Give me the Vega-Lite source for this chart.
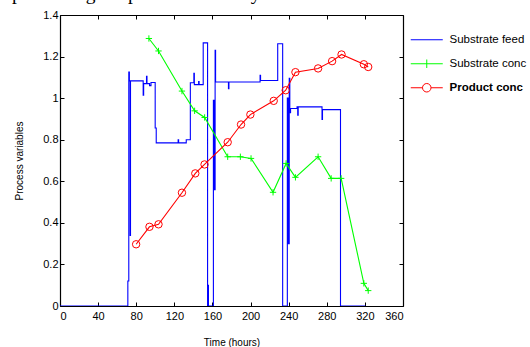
{
  "$schema": "https://vega.github.io/schema/vega-lite/v6.json",
  "width": 343,
  "height": 291,
  "autosize": {"type": "none"},
  "padding": {"left": 60, "top": 15, "right": 127, "bottom": 41},
  "background": "white",
  "title": {"text": "processing for product recovery.", "font": "Liberation Serif", "fontSize": 19.5, "fontWeight": "normal", "color": "#000", "anchor": "start", "frame": "group", "baseline": "alphabetic", "offset": 0, "dx": -48, "dy": 10},
  "config": {
    "view": {"stroke": null},
    "axis": {"domainColor": "#000", "domainWidth": 1.2, "tickColor": "#000", "tickSize": -4, "labelPadding": 8, "labelFont": "Liberation Sans", "labelFontSize": 11, "labelColor": "#000", "titleFont": "Liberation Sans", "titleFontSize": 10, "titleFontWeight": "normal", "titleColor": "#000", "grid": false}
  },
  "datasets": {
    "d": [
      {"s":"Substrate feed","i":0,"t":0,"v":0},
      {"s":"Substrate feed","i":1,"t":71.2,"v":0},
      {"s":"Substrate feed","i":2,"t":71.2,"v":0.12},
      {"s":"Substrate feed","i":3,"t":72.2,"v":0.12},
      {"s":"Substrate feed","i":4,"t":72.2,"v":1.126},
      {"s":"Substrate feed","i":5,"t":72.8,"v":1.126},
      {"s":"Substrate feed","i":6,"t":72.8,"v":1.083},
      {"s":"Substrate feed","i":7,"t":73.6,"v":1.083},
      {"s":"Substrate feed","i":8,"t":73.6,"v":0.34},
      {"s":"Substrate feed","i":9,"t":74,"v":0.34},
      {"s":"Substrate feed","i":10,"t":74,"v":1.083},
      {"s":"Substrate feed","i":11,"t":87.3,"v":1.083},
      {"s":"Substrate feed","i":12,"t":87.3,"v":1.014},
      {"s":"Substrate feed","i":13,"t":87.8,"v":1.014},
      {"s":"Substrate feed","i":14,"t":87.8,"v":1.07},
      {"s":"Substrate feed","i":15,"t":90.8,"v":1.07},
      {"s":"Substrate feed","i":16,"t":90.8,"v":1.105},
      {"s":"Substrate feed","i":17,"t":91.3,"v":1.105},
      {"s":"Substrate feed","i":18,"t":91.3,"v":1.07},
      {"s":"Substrate feed","i":19,"t":94,"v":1.07},
      {"s":"Substrate feed","i":20,"t":94,"v":1.06},
      {"s":"Substrate feed","i":21,"t":95.5,"v":1.06},
      {"s":"Substrate feed","i":22,"t":95.5,"v":1.075},
      {"s":"Substrate feed","i":23,"t":99.9,"v":1.075},
      {"s":"Substrate feed","i":24,"t":99.9,"v":0.856},
      {"s":"Substrate feed","i":25,"t":101,"v":0.856},
      {"s":"Substrate feed","i":26,"t":101,"v":0.785},
      {"s":"Substrate feed","i":27,"t":124,"v":0.785},
      {"s":"Substrate feed","i":28,"t":124,"v":0.8},
      {"s":"Substrate feed","i":29,"t":124.5,"v":0.8},
      {"s":"Substrate feed","i":30,"t":124.5,"v":0.785},
      {"s":"Substrate feed","i":31,"t":132.5,"v":0.785},
      {"s":"Substrate feed","i":32,"t":132.5,"v":0.8},
      {"s":"Substrate feed","i":33,"t":136.8,"v":0.8},
      {"s":"Substrate feed","i":34,"t":136.8,"v":1.074},
      {"s":"Substrate feed","i":35,"t":140.5,"v":1.074},
      {"s":"Substrate feed","i":36,"t":140.5,"v":1.12},
      {"s":"Substrate feed","i":37,"t":141,"v":1.12},
      {"s":"Substrate feed","i":38,"t":141,"v":1.065},
      {"s":"Substrate feed","i":39,"t":145.5,"v":1.065},
      {"s":"Substrate feed","i":40,"t":145.5,"v":1.08},
      {"s":"Substrate feed","i":41,"t":146,"v":1.08},
      {"s":"Substrate feed","i":42,"t":146,"v":1.065},
      {"s":"Substrate feed","i":43,"t":150.3,"v":1.065},
      {"s":"Substrate feed","i":44,"t":150.3,"v":1.266},
      {"s":"Substrate feed","i":45,"t":154.9,"v":1.266},
      {"s":"Substrate feed","i":46,"t":154.9,"v":0},
      {"s":"Substrate feed","i":47,"t":155.5,"v":0},
      {"s":"Substrate feed","i":48,"t":155.5,"v":0.1},
      {"s":"Substrate feed","i":49,"t":155.8,"v":0.1},
      {"s":"Substrate feed","i":50,"t":155.8,"v":0},
      {"s":"Substrate feed","i":51,"t":161,"v":0},
      {"s":"Substrate feed","i":52,"t":161,"v":0.99},
      {"s":"Substrate feed","i":53,"t":162,"v":0.99},
      {"s":"Substrate feed","i":54,"t":162,"v":0.56},
      {"s":"Substrate feed","i":55,"t":162.8,"v":0.56},
      {"s":"Substrate feed","i":56,"t":162.8,"v":1.23},
      {"s":"Substrate feed","i":57,"t":163.3,"v":1.23},
      {"s":"Substrate feed","i":58,"t":163.3,"v":1.078},
      {"s":"Substrate feed","i":59,"t":176.8,"v":1.078},
      {"s":"Substrate feed","i":60,"t":176.8,"v":1.045},
      {"s":"Substrate feed","i":61,"t":177.3,"v":1.045},
      {"s":"Substrate feed","i":62,"t":177.3,"v":1.078},
      {"s":"Substrate feed","i":63,"t":210,"v":1.078},
      {"s":"Substrate feed","i":64,"t":210,"v":1.11},
      {"s":"Substrate feed","i":65,"t":210.5,"v":1.11},
      {"s":"Substrate feed","i":66,"t":210.5,"v":1.085},
      {"s":"Substrate feed","i":67,"t":228.5,"v":1.085},
      {"s":"Substrate feed","i":68,"t":228.5,"v":1.262},
      {"s":"Substrate feed","i":69,"t":233.7,"v":1.262},
      {"s":"Substrate feed","i":70,"t":233.7,"v":0},
      {"s":"Substrate feed","i":71,"t":238.6,"v":0},
      {"s":"Substrate feed","i":72,"t":238.6,"v":1.0},
      {"s":"Substrate feed","i":73,"t":239.6,"v":1.0},
      {"s":"Substrate feed","i":74,"t":239.6,"v":0.3},
      {"s":"Substrate feed","i":75,"t":240.6,"v":0.3},
      {"s":"Substrate feed","i":76,"t":240.6,"v":1.095},
      {"s":"Substrate feed","i":77,"t":241.2,"v":1.095},
      {"s":"Substrate feed","i":78,"t":241.2,"v":0.93},
      {"s":"Substrate feed","i":79,"t":242,"v":0.93},
      {"s":"Substrate feed","i":80,"t":242,"v":0.95},
      {"s":"Substrate feed","i":81,"t":248.8,"v":0.95},
      {"s":"Substrate feed","i":82,"t":248.8,"v":0.958},
      {"s":"Substrate feed","i":83,"t":249.5,"v":0.958},
      {"s":"Substrate feed","i":84,"t":249.5,"v":0.918},
      {"s":"Substrate feed","i":85,"t":250,"v":0.918},
      {"s":"Substrate feed","i":86,"t":250,"v":0.958},
      {"s":"Substrate feed","i":87,"t":275,"v":0.958},
      {"s":"Substrate feed","i":88,"t":275,"v":0.898},
      {"s":"Substrate feed","i":89,"t":275.5,"v":0.898},
      {"s":"Substrate feed","i":90,"t":275.5,"v":0.945},
      {"s":"Substrate feed","i":91,"t":294.4,"v":0.945},
      {"s":"Substrate feed","i":92,"t":294.4,"v":0},
      {"s":"Substrate feed","i":93,"t":320.5,"v":0},
      {"s":"Substrate conc","i":0,"t":93.3,"v":1.287},
      {"s":"Substrate conc","i":1,"t":103.4,"v":1.227},
      {"s":"Substrate conc","i":2,"t":128,"v":1.034},
      {"s":"Substrate conc","i":3,"t":141.3,"v":0.939},
      {"s":"Substrate conc","i":4,"t":151.8,"v":0.907},
      {"s":"Substrate conc","i":5,"t":176,"v":0.718},
      {"s":"Substrate conc","i":6,"t":189.3,"v":0.718},
      {"s":"Substrate conc","i":7,"t":200.5,"v":0.71},
      {"s":"Substrate conc","i":8,"t":223.6,"v":0.547},
      {"s":"Substrate conc","i":9,"t":237.3,"v":0.686},
      {"s":"Substrate conc","i":10,"t":247.1,"v":0.619},
      {"s":"Substrate conc","i":11,"t":270.9,"v":0.718},
      {"s":"Substrate conc","i":12,"t":284.6,"v":0.614},
      {"s":"Substrate conc","i":13,"t":295.1,"v":0.614},
      {"s":"Substrate conc","i":14,"t":318.9,"v":0.109},
      {"s":"Substrate conc","i":15,"t":323.5,"v":0.074},
      {"s":"Product conc","i":0,"t":79.9,"v":0.297},
      {"s":"Product conc","i":1,"t":93.9,"v":0.381},
      {"s":"Product conc","i":2,"t":103.4,"v":0.393},
      {"s":"Product conc","i":3,"t":128,"v":0.545},
      {"s":"Product conc","i":4,"t":142,"v":0.638},
      {"s":"Product conc","i":5,"t":151.7,"v":0.681},
      {"s":"Product conc","i":6,"t":176,"v":0.788},
      {"s":"Product conc","i":7,"t":190,"v":0.873},
      {"s":"Product conc","i":8,"t":199.8,"v":0.921},
      {"s":"Product conc","i":9,"t":224.3,"v":0.987},
      {"s":"Product conc","i":10,"t":236.9,"v":1.038},
      {"s":"Product conc","i":11,"t":247.1,"v":1.125},
      {"s":"Product conc","i":12,"t":270.9,"v":1.143},
      {"s":"Product conc","i":13,"t":285.6,"v":1.178},
      {"s":"Product conc","i":14,"t":295.5,"v":1.21},
      {"s":"Product conc","i":15,"t":318.9,"v":1.163},
      {"s":"Product conc","i":16,"t":323.5,"v":1.15}
    ]
  },
  "data": {"name": "d"},
  "resolve": {"axis": {"x": "independent", "y": "independent"}},
  "layer": [
    {
      "mark": {"type": "line", "strokeWidth": 1.1, "clip": true},
      "encoding": {
        "x": {"field": "t", "type": "quantitative", "scale": {"domain": [0, 360], "nice": false, "zero": false},
              "axis": {"orient": "bottom", "values": [0,40,80,120,160,200,240,280,320,360], "title": "Time (hours)", "titlePadding": 16}},
        "y": {"field": "v", "type": "quantitative", "scale": {"domain": [0, 1.4], "nice": false, "zero": false},
              "axis": {"orient": "left", "values": [0,0.2,0.4,0.6,0.8,1,1.2,1.4], "format": "~g", "title": "Process variables", "titlePadding": 18, "labelPadding": 6}},
        "color": {"field": "s", "type": "nominal",
                  "scale": {"domain": ["Substrate feed", "Substrate conc", "Product conc"], "range": ["#0000ff", "#00ff00", "#ff0000"]},
                  "legend": {"title": null, "orient": "none", "legendX": 361, "legendY": 19, "padding": 0,
                             "symbolSize": 100, "symbolStrokeWidth": 1, "labelOffset": 17, "rowPadding": 11,
                             "labelFont": "Liberation Sans", "labelFontSize": 11.5, "labelColor": "#000",
                             "encode": {
                               "symbols": {"update": {
                                 "shape": {"signal": "datum.value === 'Substrate feed' ? 'M-3.2,0H3.2' : datum.value === 'Substrate conc' ? 'M-3.2,0H3.2M0,-0.85V0.85' : 'M-3.2,0H-0.85M0.85,0H3.2M-0.85,0A0.85,0.85 0 1 1 0.85,0A0.85,0.85 0 1 1 -0.85,0'"},
                                 "fill": {"value": "transparent"},
                                 "strokeWidth": {"value": 1}
                               }},
                               "labels": {"update": {
                                 "fontWeight": {"signal": "datum.value === 'Product conc' ? 'bold' : 'normal'"}
                               }}
                             }}},
        "order": {"field": "i", "type": "quantitative"}
      }
    },
    {
      "transform": [{"filter": "datum.s === 'Substrate conc'"}],
      "mark": {"type": "point", "shape": "M-1,0H1M0,-1V1", "size": 40, "filled": false, "color": "#00ff00", "strokeWidth": 1, "opacity": 1},
      "encoding": {
        "x": {"field": "t", "type": "quantitative", "axis": {"orient": "top", "values": [0,40,80,120,160,200,240,280,320,360], "labels": false, "title": null}},
        "y": {"field": "v", "type": "quantitative", "axis": {"orient": "right", "values": [0,0.2,0.4,0.6,0.8,1,1.2,1.4], "labels": false, "title": null}}
      }
    },
    {
      "transform": [{"filter": "datum.s === 'Product conc'"}],
      "mark": {"type": "point", "shape": "circle", "size": 55, "filled": false, "color": "#ff0000", "strokeWidth": 1, "opacity": 1},
      "encoding": {
        "x": {"field": "t", "type": "quantitative", "axis": null},
        "y": {"field": "v", "type": "quantitative", "axis": null}
      }
    }
  ]
}
